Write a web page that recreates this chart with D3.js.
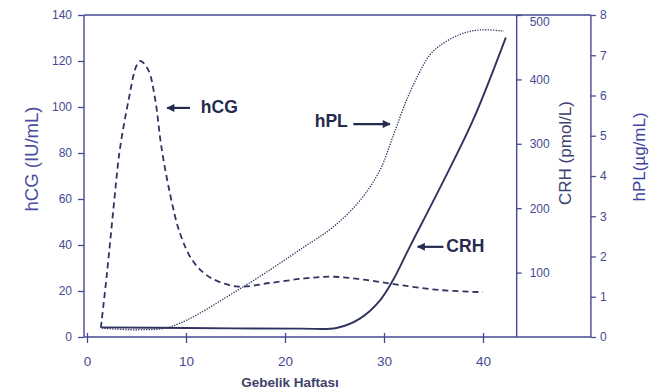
<!DOCTYPE html>
<html>
<head>
<meta charset="utf-8">
<script src="https://cdn.jsdelivr.net/npm/d3@7"></script>
<style>
  body { margin: 0; background: #fff; }
  svg { font-family: "Liberation Sans", Arial, sans-serif; }
</style>
</head>
<body>
<svg id="chart" width="662" height="392"></svg>
<script>
// Values (weeks of pregnancy on x).
const hcgWeeks = [1.4, 2.0, 2.7, 3.3, 4.2, 5.0, 5.4, 6.2, 6.9, 7.5, 8.4, 9.4, 10.7, 12.4, 15.1, 18.5, 22.0, 24.9, 28.2, 31.6, 35.7, 40.0];
const hcgValues = [4, 27, 57, 81, 103, 118, 120, 116, 103, 83, 62, 45, 33, 26, 22, 23.5, 25.5, 26.2, 24.8, 22.6, 20.4, 19.5];

const hplWeeks = [1.5, 5.0, 8.5, 15.8, 22.0, 24.9, 27.6, 29.6, 30.9, 32.3, 33.6, 34.6, 35.7, 37.7, 39.7, 42.1];
const hplValues = [0.22, 0.18, 0.26, 1.25, 2.25, 2.74, 3.4, 4.15, 4.98, 5.9, 6.58, 7.0, 7.25, 7.52, 7.63, 7.6];

const crhWeeks = [1.5, 10, 21.5, 25.2, 27.6, 29.6, 30.9, 32.6, 35.7, 39.0, 42.3];
const crhValues = [15, 14, 13, 14, 29, 57, 88, 140, 233, 337, 465];

const xTicks = [0, 10, 20, 30, 40];
const hcgTicks = [0, 20, 40, 60, 80, 100, 120, 140];
const crhTicks = [100, 200, 300, 400, 500];
const hplTicks = [0, 1, 2, 3, 4, 5, 6, 7, 8];

const axisColor = "#444a92";
const lineColor = "#2f3360";
const labelColor = "#252a4e";

const svg = d3.select("#chart");

// scales
const x = d3.scaleLinear().domain([0, 40]).range([87, 483]);
const yHcg = d3.scaleLinear().domain([0, 140]).range([337, 15]);
const yCrh = d3.scaleLinear().domain([0, 500]).range([337, 15]);
const yHpl = d3.scaleLinear().domain([0, 8]).range([337, 15]);

const plotLeft = x(-0.3), crhX = x(43.4), plotRight = x(50.9);
const plotTop = yHcg(140), plotBottom = yHcg(0);

// frame
const frame = svg.append("g").attr("stroke", axisColor).attr("stroke-width", 1.4);
frame.append("line").attr("x1", plotLeft).attr("x2", plotRight).attr("y1", plotTop).attr("y2", plotTop);
frame.append("line").attr("x1", plotLeft).attr("x2", plotRight).attr("y1", plotBottom).attr("y2", plotBottom);
frame.append("line").attr("x1", plotLeft).attr("x2", plotLeft).attr("y1", plotTop).attr("y2", plotBottom);
frame.append("line").attr("x1", crhX).attr("x2", crhX).attr("y1", plotTop).attr("y2", plotBottom);
frame.append("line").attr("x1", plotRight).attr("x2", plotRight).attr("y1", plotTop).attr("y2", plotBottom);

function styleAxis(g) {
    g.select(".domain").remove();
    g.selectAll(".tick line").attr("stroke", axisColor).attr("stroke-width", 1.3);
    g.selectAll(".tick text").attr("fill", axisColor).attr("font-size", 12)
        .attr("font-family", "Liberation Sans, Arial, sans-serif");
}

// x axis
svg.append("g")
    .attr("transform", "translate(0," + plotBottom + ")")
    .call(d3.axisBottom(x).tickValues(xTicks).tickSize(6).tickPadding(13))
    .call(styleAxis)
    .call(g => g.selectAll(".tick line").attr("y1", -4))
    .call(g => g.selectAll(".tick text").attr("font-size", 13.5));

// hCG axis (left)
svg.append("g")
    .attr("transform", "translate(" + plotLeft + ",0)")
    .call(d3.axisLeft(yHcg).tickValues(hcgTicks).tickSize(6).tickPadding(6))
    .call(styleAxis);

// CRH axis
svg.append("g")
    .attr("transform", "translate(" + crhX + ",0)")
    .call(d3.axisRight(yCrh).tickValues(crhTicks).tickSize(5).tickPadding(8))
    .call(styleAxis)
    .call(g => g.selectAll(".tick text").filter(d => d === 500).attr("dy", "0.85em"));

// hPL axis
svg.append("g")
    .attr("transform", "translate(" + plotRight + ",0)")
    .call(d3.axisRight(yHpl).tickValues(hplTicks).tickSize(5).tickPadding(4))
    .call(styleAxis);

// axis titles
svg.append("text")
    .attr("transform", "translate(33,159) rotate(-90)")
    .attr("text-anchor", "middle").attr("dominant-baseline", "middle")
    .attr("font-size", 18.5).attr("fill", "#484ea0")
    .text("hCG (IU/mL)");

svg.append("text")
    .attr("transform", "translate(567,153) rotate(-90)")
    .attr("text-anchor", "middle").attr("dominant-baseline", "middle")
    .attr("font-size", 17).attr("fill", "#3e4270")
    .text("CRH (pmol/L)");

svg.append("text")
    .attr("transform", "translate(641,157) rotate(-90)")
    .attr("text-anchor", "middle").attr("dominant-baseline", "middle")
    .attr("font-size", 17).attr("fill", "#3d43a0")
    .text("hPL(µg/mL)");

svg.append("text")
    .attr("x", 290).attr("y", 387)
    .attr("text-anchor", "middle")
    .attr("font-size", 13.5).attr("font-weight", "bold").attr("fill", "#3d4268")
    .text("Gebelik Haftası");

// curves
const line = (yScale) => d3.line()
    .x(d => x(d[0]))
    .y(d => yScale(d[1]))
    .curve(d3.curveCatmullRom.alpha(0.5));

svg.append("path")
    .datum(d3.zip(hplWeeks, hplValues))
    .attr("d", line(yHpl))
    .attr("fill", "none").attr("stroke", lineColor)
    .attr("stroke-width", 1.3).attr("stroke-dasharray", "1.3,1.3");

svg.append("path")
    .datum(d3.zip(crhWeeks, crhValues))
    .attr("d", line(yCrh))
    .attr("fill", "none").attr("stroke", lineColor)
    .attr("stroke-width", 1.9);

svg.append("path")
    .datum(d3.zip(hcgWeeks, hcgValues))
    .attr("d", line(yHcg))
    .attr("fill", "none").attr("stroke", lineColor)
    .attr("stroke-width", 1.8).attr("stroke-dasharray", "6,4");

// arrow head marker
svg.append("defs").append("marker")
    .attr("id", "arrow")
    .attr("viewBox", "0 0 10 10")
    .attr("refX", 9).attr("refY", 5)
    .attr("markerWidth", 10).attr("markerHeight", 8)
    .attr("markerUnits", "userSpaceOnUse")
    .attr("orient", "auto")
    .append("path").attr("d", "M0,0 L10,5 L0,10 Z").attr("fill", labelColor);

// curve labels with arrows
const notes = [
    {text: "hCG", tx: x(11.5), ty: yHcg(97.4), x1: x(10.4), x2: x(8.1), ay: yHcg(99.6)},
    {text: "hPL", tx: x(23.0), ty: yHpl(5.22), x1: x(26.9), x2: x(30.6), ay: yHpl(5.29)},
    {text: "CRH", tx: x(36.3), ty: yCrh(132), x1: x(36.0), x2: x(33.4), ay: yCrh(140)}
];

notes.forEach(n => {
    svg.append("line")
        .attr("x1", n.x1).attr("x2", n.x2).attr("y1", n.ay).attr("y2", n.ay)
        .attr("stroke", labelColor).attr("stroke-width", 2.2)
        .attr("marker-end", "url(#arrow)");
    svg.append("text")
        .attr("x", n.tx).attr("y", n.ty)
        .attr("font-size", 17.5).attr("font-weight", "bold").attr("fill", labelColor)
        .text(n.text);
});
</script>
</body>
</html>
